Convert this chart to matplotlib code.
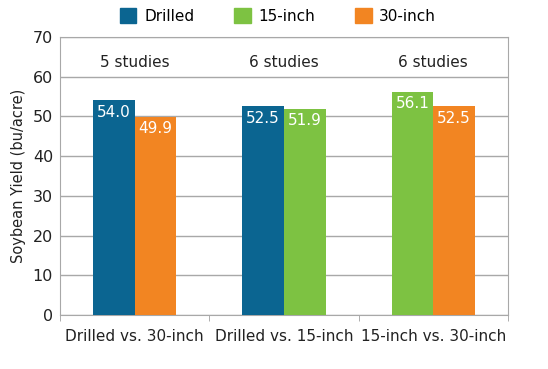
import matplotlib.pyplot as plt
import numpy as np

groups = ["Drilled vs. 30-inch", "Drilled vs. 15-inch", "15-inch vs. 30-inch"]
studies = ["5 studies", "6 studies", "6 studies"]
series = ["Drilled", "15-inch", "30-inch"]
colors = {"Drilled": "#0b6591", "15-inch": "#7dc242", "30-inch": "#f28522"}
# each group: (left series, left value, right series, right value)
left_series = ["Drilled", "Drilled", "15-inch"]
left_vals = [54.0, 52.5, 56.1]
right_series = ["30-inch", "15-inch", "30-inch"]
right_vals = [49.9, 51.9, 52.5]

plt.rcParams["font.family"] = "DejaVu Sans"
fig, ax = plt.subplots(figsize=(5.48, 3.69), dpi=100)
fig.subplots_adjust(left=0.1095, right=0.927, top=0.9, bottom=0.1463)

x = np.arange(len(groups))
w = 0.28
for i in range(len(groups)):
    for xs, s, v in [(x[i] - w / 2, left_series[i], left_vals[i]), (x[i] + w / 2, right_series[i], right_vals[i])]:
        ax.bar(xs, v, w, color=colors[s], zorder=3)
        ax.annotate(f"{v:.1f}", (xs, v), xytext=(0, -3), textcoords="offset points",
                    ha="center", va="top", color="white", fontsize=11, zorder=4)
    ax.text(x[i], 63.6, studies[i], ha="center", va="center", fontsize=11, color="#222222")

ax.set_xlim(-0.5, 2.5)
ax.set_ylim(0, 70)
ax.set_yticks(range(0, 71, 10))
ax.set_xticks(x)
ax.set_xticklabels(groups, fontsize=11, color="#222222")
ax.tick_params(axis="x", length=0, pad=10)
ax.set_xticks([-0.5, 0.5, 1.5, 2.5], minor=True)
ax.tick_params(axis="x", which="minor", length=4, color="#a0a0a0")
ax.tick_params(axis="y", length=0, labelsize=11.5, labelcolor="#222222", pad=5)
ax.grid(axis="y", color="#a8a8a8", linewidth=1, zorder=0)
for sp in ax.spines.values():
    sp.set_color("#a8a8a8")
ax.set_ylabel("Soybean Yield (bu/acre)", fontsize=10.5, color="#222222", labelpad=5)

handles = [plt.Rectangle((0, 0), 1, 1, color=colors[s]) for s in series]
fig.legend(handles, series, loc="upper center", bbox_to_anchor=(0.507, 1.015), ncol=3,
           frameon=False, fontsize=11, handlelength=1.1, handleheight=1.1,
           columnspacing=2.6, handletextpad=0.5)

fig.savefig("out.png", dpi=100)
